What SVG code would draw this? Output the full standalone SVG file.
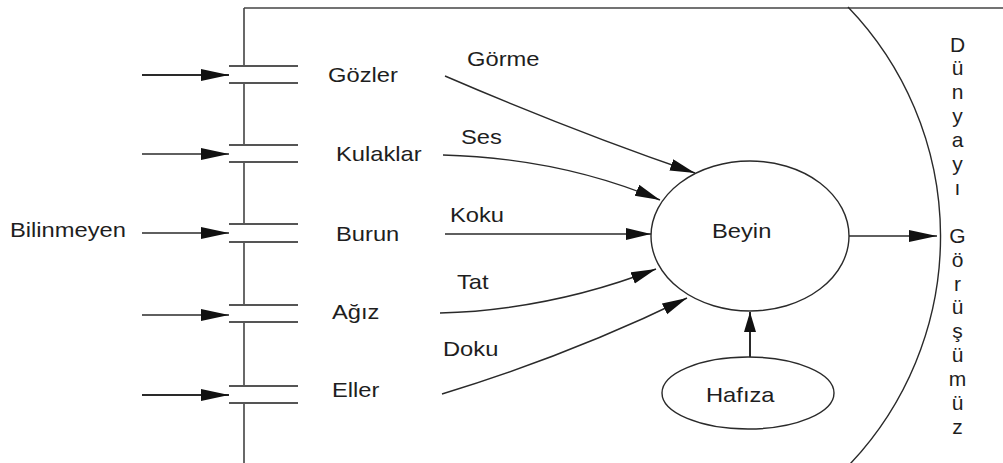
<svg xmlns="http://www.w3.org/2000/svg" width="1003" height="463" viewBox="0 0 1003 463">
<style>
.t{font-family:"Liberation Sans",Arial,sans-serif;font-size:21px;fill:#1e1e1e}
.v{font-family:"Liberation Sans",Arial,sans-serif;font-size:21px;fill:#1e1e1e;text-anchor:middle}
.ln{fill:none;stroke:#2a2a2a;stroke-width:1.4}
.lt{fill:none;stroke:#2a2a2a;stroke-width:2}
.bar{fill:none;stroke:#555;stroke-width:1.8}
.fr{fill:none;stroke:#444;stroke-width:1.6}
.nd{fill:#fff;stroke:#2a2a2a;stroke-width:1.4}
</style>
<defs>
<marker id="ah" markerUnits="userSpaceOnUse" markerWidth="30" markerHeight="14" refX="28" refY="6" orient="auto">
<path d="M0,0 L28,6 L0,12 Z" fill="#111"/>
</marker>
<marker id="ahs" markerUnits="userSpaceOnUse" markerWidth="26" markerHeight="14" refX="25" refY="6" orient="auto">
<path d="M0,0 L25,6 L0,12 Z" fill="#111"/>
</marker>
<marker id="ahm" markerUnits="userSpaceOnUse" markerWidth="22" markerHeight="14" refX="20" refY="6" orient="auto">
<path d="M0,0 L20,6 L0,12 Z" fill="#111"/>
</marker>
</defs>
<rect width="1003" height="463" fill="#fff"/>
<g id="frame">
<path class="fr" d="M244,8 H1003"/>
<path class="fr" d="M244,8 V66 M244,83 V145 M244,162 V224 M244,242 V305 M244,322 V386 M244,403 V463"/>
<path class="ln" d="M848,7 A331,331 0 0 1 850,464"/>
</g>
<g id="ports">
<path class="bar" d="M229,66 H298 M229,83 H298"/>
<path class="bar" d="M229,145 H298 M229,162 H298"/>
<path class="bar" d="M229,224 H298 M229,242 H298"/>
<path class="bar" d="M229,305 H298 M229,322 H298"/>
<path class="bar" d="M229,386 H298 M229,403 H298"/>
</g>
<g id="connectors">
<path class="lt" d="M142,75 H229" marker-end="url(#ah)"/>
<path class="ln" d="M142,154 H229" marker-end="url(#ah)"/>
<path class="ln" d="M142,233 H229" marker-end="url(#ah)"/>
<path class="ln" d="M142,315 H229" marker-end="url(#ah)"/>
<path class="lt" d="M142,395 H229" marker-end="url(#ah)"/>
<path class="ln" d="M445,76 Q575,132 695,173" marker-end="url(#ahs)"/>
<path class="ln" d="M443,155 Q560,158 660,200" marker-end="url(#ahs)"/>
<path class="ln" d="M445,234 H651" marker-end="url(#ahs)"/>
<path class="ln" d="M440,313 Q550,310 656,269" marker-end="url(#ahs)"/>
<path class="ln" d="M442,394 Q570,355 687,298" marker-end="url(#ahs)"/>
<path class="ln" d="M849,236 H937" marker-end="url(#ah)"/>
<path class="lt" d="M750,357 V312" marker-end="url(#ahm)"/>
</g>
<g id="beyin">
<ellipse class="nd" cx="750" cy="236" rx="99" ry="75"/>
<text class="t" transform="translate(712,238) scale(1.13,1)">Beyin</text>
</g>
<g id="hafiza">
<ellipse class="nd" cx="748" cy="393" rx="86" ry="36"/>
<text class="t" transform="translate(706,402) scale(1.13,1)">Hafıza</text>
</g>
<g id="bilinmeyen"><text class="t" transform="translate(10,237) scale(1.13,1)">Bilinmeyen</text></g>
<g id="gozler"><text class="t" transform="translate(328,82) scale(1.13,1)">Gözler</text></g>
<g id="kulaklar"><text class="t" transform="translate(336,161) scale(1.13,1)">Kulaklar</text></g>
<g id="burun"><text class="t" transform="translate(336,241) scale(1.13,1)">Burun</text></g>
<g id="agiz"><text class="t" transform="translate(332,319) scale(1.13,1)">Ağız</text></g>
<g id="eller"><text class="t" transform="translate(332,397) scale(1.13,1)">Eller</text></g>
<g id="edge-labels">
<text class="t" transform="translate(467,66) scale(1.13,1)">Görme</text>
<text class="t" transform="translate(461,144) scale(1.13,1)">Ses</text>
<text class="t" transform="translate(450,222) scale(1.13,1)">Koku</text>
<text class="t" transform="translate(457,289) scale(1.13,1)">Tat</text>
<text class="t" transform="translate(443,356) scale(1.13,1)">Doku</text>
</g>
<g id="dunyayi-gorusumuz">
<text class="v"><tspan x="957.5" y="51.5">D</tspan><tspan x="957.5" y="75.4">ü</tspan><tspan x="957.5" y="99.3">n</tspan><tspan x="957.5" y="123.2">y</tspan><tspan x="957.5" y="147.1">a</tspan><tspan x="957.5" y="171">y</tspan><tspan x="957.5" y="194.9">ı</tspan><tspan x="957.5" y="242.7">G</tspan><tspan x="957.5" y="266.6">ö</tspan><tspan x="957.5" y="290.5">r</tspan><tspan x="957.5" y="314.4">ü</tspan><tspan x="957.5" y="338.3">ş</tspan><tspan x="957.5" y="362.2">ü</tspan><tspan x="957.5" y="386.1">m</tspan><tspan x="957.5" y="410">ü</tspan><tspan x="957.5" y="433.9">z</tspan></text>
</g>
</svg>
